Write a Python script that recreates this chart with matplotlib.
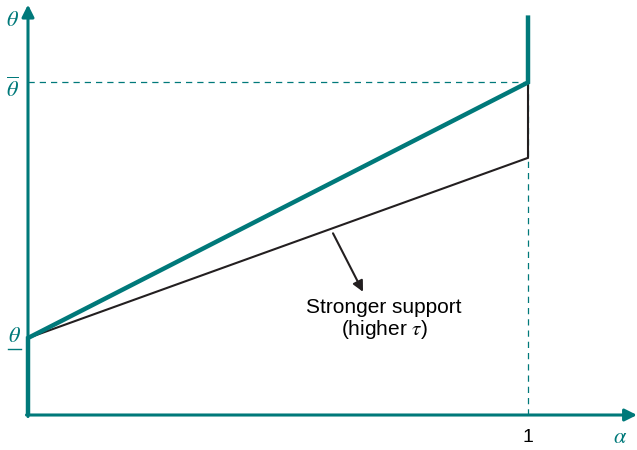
import matplotlib.pyplot as plt

plt.rcParams['font.family'] = ['Liberation Sans', 'DejaVu Sans']
plt.rcParams['mathtext.fontset'] = 'stix'

teal = '#00797a'

# threshold levels and line endpoints (alpha on x, theta on y)
alpha_max = 1.0
theta_low = 1.0
theta_high = 4.32
theta_weak_end = 3.34
theta_top = 5.19

fig = plt.figure(figsize=(6.37, 4.5), dpi=100)
ax = fig.add_axes([0, 0, 1, 1])
ax.set_xlim(-0.056, 1.218)
ax.set_ylim(-0.4545, 5.39)
ax.axis('off')

# axes with arrow heads
ax.annotate('', xy=(0, 5.33), xytext=(0, -0.02),
            arrowprops=dict(arrowstyle='-|>', color=teal, lw=2.2,
                            mutation_scale=18, shrinkA=0, shrinkB=0))
ax.annotate('', xy=(1.218, 0), xytext=(-0.003, 0),
            arrowprops=dict(arrowstyle='-|>', color=teal, lw=2.2,
                            mutation_scale=18, shrinkA=0, shrinkB=0))

# guide lines
ax.plot([0, alpha_max], [theta_high, theta_high], color=teal, lw=0.9,
        ls=(0, (5, 4)))
ax.plot([alpha_max, alpha_max], [0, theta_high], color=teal, lw=0.9,
        ls=(0, (5, 4)))

# weaker support path and stronger support path
ax.plot([0, alpha_max, alpha_max], [theta_low, theta_weak_end, theta_high],
        color='#231f20', lw=1.5, solid_joinstyle='miter')
ax.plot([0, 0, alpha_max, alpha_max], [0, theta_low, theta_high, theta_top],
        color=teal, lw=3.2, solid_joinstyle='miter', solid_capstyle='butt')

# labels
ax.text(-0.031, 5.13, r'$\theta$', color=teal, fontsize=16, ha='center', va='center')
ax.text(-0.031, 4.22, r'$\overline{\theta}$', color=teal, fontsize=16,
        ha='center', va='center')
ax.text(-0.028, 1.02, r'$\theta$', color=teal, fontsize=16, ha='center', va='center')
ax.plot([-0.041, -0.015], [0.86, 0.86], color=teal, lw=1.0)
ax.text(alpha_max, -0.29, '1', fontsize=14, ha='center', va='center')
ax.text(1.185, -0.29, r'$\alpha$', color=teal, fontsize=16, ha='center', va='center')

ax.annotate('', xy=(0.67, 1.6), xytext=(0.61, 2.36),
            arrowprops=dict(arrowstyle='-|>', color='#231f20', lw=1.5,
                            mutation_scale=16, shrinkA=0, shrinkB=0))
ax.text(0.712, 1.24, 'Stronger support\n(higher $\\tau$)', fontsize=15,
        ha='center', va='center', linespacing=1.1)

fig.savefig('out.png', dpi=100)
